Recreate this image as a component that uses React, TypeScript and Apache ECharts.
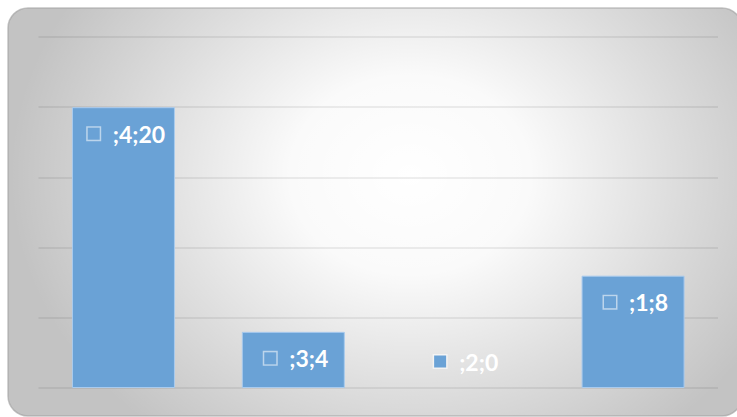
import React, { useEffect, useRef } from "react";
import * as echarts from "echarts";

const categories = ["4", "3", "2", "1"];
const values = [20, 4, 0, 8];
const yMin = 0;
const yMax = 25;
const yInterval = 5;

const BAR = "#6aa2d6";

export default function App() {
  const ref = useRef<HTMLDivElement>(null);
  useEffect(() => {
    document.body.style.margin = "0";
    const chart = echarts.init(ref.current!, undefined, { renderer: "svg" });
    const data = values.map((v) => ({
      value: v,
      itemStyle: v === 0 ? { borderWidth: 0, color: "rgba(0,0,0,0)" } : undefined,
      label:
        v === 0
          ? { position: "top", distance: 15 }
          : { position: "insideTop", distance: 15 },
    }));
    chart.setOption({
      animation: false,
      backgroundColor: "#ffffff",
      graphic: [
        {
          type: "rect",
          z: -30,
          silent: true,
          shape: { x: 8, y: 8, width: 734, height: 408, r: 20 },
          style: { fill: "#c3c3c3" },
        },
        {
          type: "circle",
          z: -20,
          silent: true,
          x: 410,
          y: 175,
          scaleX: 400 / 330,
          shape: { cx: 0, cy: 0, r: 330 },
          style: {
            fill: {
              type: "radial",
              x: 0.5,
              y: 0.5,
              r: 0.5,
              colorStops: [
                { offset: 0, color: "rgba(255,255,255,1)" },
                { offset: 0.3, color: "rgba(255,255,255,0.92)" },
                { offset: 0.65, color: "rgba(255,255,255,0.45)" },
                { offset: 1, color: "rgba(255,255,255,0)" },
              ],
            },
          },
        },
        {
          type: "rect",
          z: -10,
          silent: true,
          shape: { x: 8, y: 8, width: 734, height: 408, r: 20 },
          style: { fill: "none", stroke: "rgba(160,160,160,0.6)", lineWidth: 1.5 },
        },
      ],
      grid: { left: 38.5, right: 19, top: 37, bottom: 29 },
      xAxis: {
        type: "category",
        data: categories,
        axisLine: { show: false },
        axisTick: { show: false },
        axisLabel: { show: false },
      },
      yAxis: {
        type: "value",
        min: yMin,
        max: yMax,
        interval: yInterval,
        axisLabel: { show: false },
        axisLine: { show: false },
        axisTick: { show: false },
        splitLine: { lineStyle: { color: "rgba(0,0,0,0.09)", width: 1.5 } },
      },
      series: [
        {
          type: "bar",
          data,
          barWidth: 103,
          itemStyle: { color: BAR, borderColor: "#a9cbee", borderWidth: 1 },
          label: {
            show: true,
            offset: [3, 0],
            formatter: (p: any) => `{k|}{s|}{t|;${p.name};${p.value}}`,
            rich: {
              k: {
                width: 12,
                height: 12,
                backgroundColor: BAR,
                borderColor: "rgba(255,255,255,0.55)",
                borderWidth: 1.5,
                verticalAlign: "middle",
              },
              s: { width: 13, height: 12 },
              t: {
                fontFamily: "Lato",
                fontWeight: "bold",
                fontSize: 23,
                color: "#ffffff",
                verticalAlign: "middle",
              },
            },
          },
        },
      ],
    });
    return () => chart.dispose();
  }, []);
  return <div ref={ref} style={{ width: 737, height: 417 }} />;
}
